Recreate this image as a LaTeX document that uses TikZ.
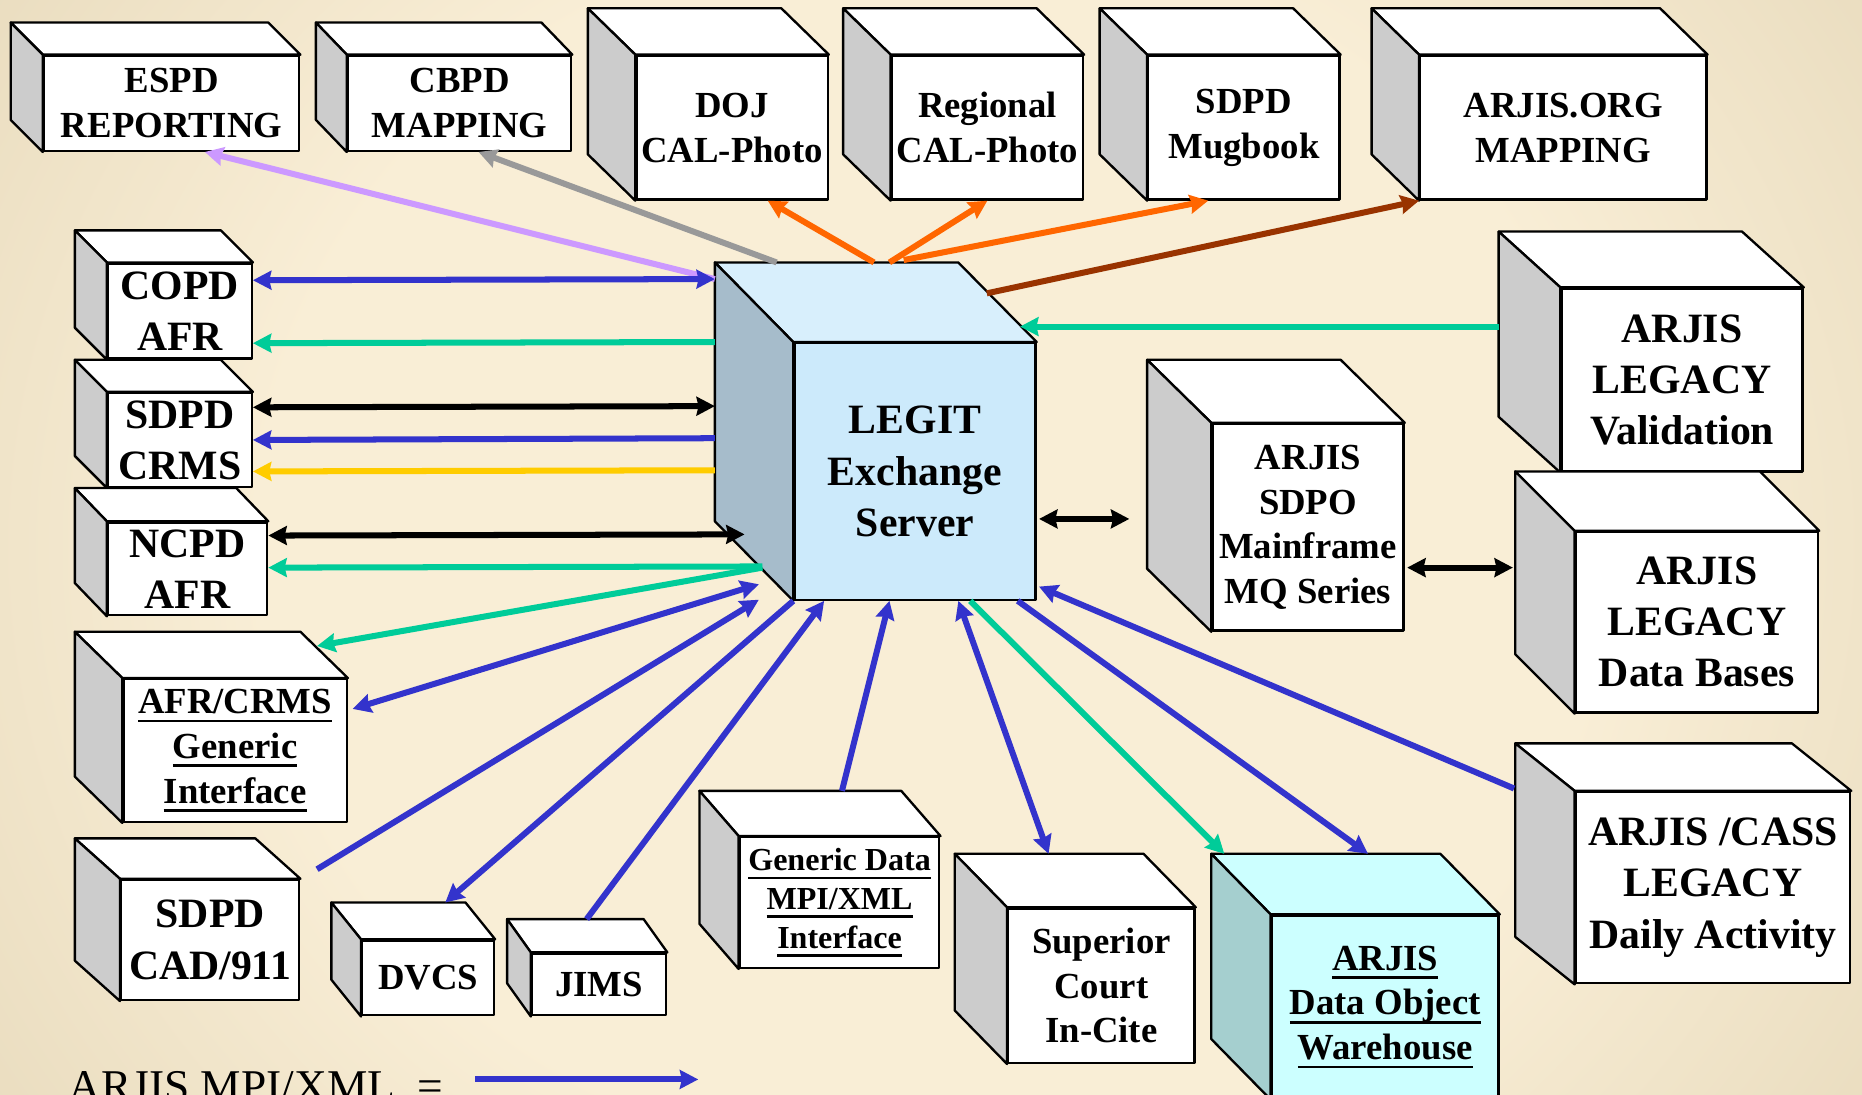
\documentclass[tikz,border=0pt]{standalone}
\usepackage{fontspec}
\setmainfont{Liberation Serif}
\usetikzlibrary{arrows.meta}
\definecolor{bgin}{HTML}{F9EED6}
\definecolor{bgout}{HTML}{D1C19B}
\definecolor{sidegray}{HTML}{CCCCCC}
\definecolor{legitfront}{HTML}{CCEAFB}
\definecolor{legittop}{HTML}{D8EFFC}
\definecolor{legitside}{HTML}{A6BCCB}
\definecolor{wcyan}{HTML}{CCFFFF}
\definecolor{wteal}{HTML}{A5CFCF}
\definecolor{cblue}{HTML}{3333CC}
\definecolor{cgreen}{HTML}{00CC99}
\definecolor{cpurple}{HTML}{CC99FF}
\definecolor{cgray}{HTML}{999999}
\definecolor{corange}{HTML}{FF6600}
\definecolor{cbrown}{HTML}{993300}
\definecolor{cyellow}{HTML}{FFCC00}
\pgfdeclareradialshading{bgglow}{\pgfpoint{0bp}{0bp}}{color(0bp)=(bgin); color(18bp)=(bgin); color(50bp)=(bgout); color(80bp)=(bgout)}
\newcommand{\thickul}[1]{\setbox0\hbox{#1}\leavevmode\rlap{\rule[-2.6pt]{\wd0}{0.8pt}}\box0}
\tikzset{
  ahead/.tip={Stealth[length=5.5pt,width=5.6pt,inset=0.6pt]},
  sz/.style 2 args={minimum width=#1*0.0125cm, minimum height=#2*0.0125cm},
  box/.style={draw, line width=0.7pt, fill=white, inner sep=0pt, align=center, font=\bfseries\fontsize{11}{13.4}\selectfont},
  bigbox/.style={box, font=\bfseries\fontsize{12.5}{15.3}\selectfont},
  smallbox/.style={box, font=\bfseries\fontsize{9.6}{11.6}\selectfont},
  face/.style={draw, line width=0.7pt, line join=round},
  conn/.style={line width=1.8pt, -ahead},
  both/.style={line width=1.8pt, ahead-ahead}
}
\begin{document}
\begin{tikzpicture}[line join=round, x=0.0125cm, y=-0.0125cm]
                \useasboundingbox (0,0) rectangle (1568,922);
                \clip (0,0) rectangle (1568,922);
                \shade[shading=bgglow] (0,-260) rectangle (1568,1182);
                \node[box, sz={215}{80}] (espd) at (144.5,87) {ESPD\\REPORTING};
                \node[box, sz={188}{80}] (cbpd) at (387,87) {CBPD\\MAPPING};
                \node[box, sz={161}{121}] (doj) at (616.5,107.5) {DOJ\\CAL-Photo};
                \node[box, sz={161}{121}] (regional) at (831.5,107.5) {Regional\\CAL-Photo};
                \node[box, sz={161}{121}] (mugbook) at (1047.5,107.5) {SDPD\\Mugbook};
                \node[box, sz={241}{121}] (arjisorg) at (1316.5,107.5) {ARJIS.ORG\\MAPPING};
                \node[bigbox, sz={121}{80}] (copd) at (151.5,262) {COPD\\AFR};
                \node[bigbox, sz={121}{79}] (crms) at (151.5,370.5) {SDPD\\CRMS};
                \node[bigbox, sz={134}{78}] (ncpd) at (158,479) {NCPD\\AFR};
                \node[box, sz={188}{120}] (generic) at (198,632) {\thickul{AFR/CRMS}\\\thickul{Generic}\\\thickul{Interface}};
                \node[bigbox, sz={150}{101}] (cad) at (177,791.5) {SDPD\\CAD/911};
                \node[box, sz={111}{63}] (dvcs) at (360.5,823.5) {DVCS};
                \node[box, sz={113}{52}] (jims) at (504.5,829) {JIMS};
                \node[smallbox, sz={168}{110}] (gendata) at (707,760) {\thickul{Generic Data}\\\thickul{MPI/XML}\\\thickul{Interface}};
                \node[box, sz={157}{130}] (court) at (927.5,830) {Superior\\Court\\In-Cite};
                \node[box, sz={191}{154}, fill=wcyan] (warehouse) at (1166.5,848) {\thickul{ARJIS}\\\thickul{Data Object}\\\thickul{Warehouse}};
                \node[bigbox, sz={203}{216}, fill=legitfront] (legit) at (770.5,397) {LEGIT\\Exchange\\Server};
                \node[box, sz={161}{174}] (sdpo) at (1101.5,444) {ARJIS\\SDPO\\Mainframe\\MQ Series};
                \node[bigbox, sz={203}{154}] (validation) at (1416.5,320) {ARJIS\\LEGACY\\Validation};
                \node[bigbox, sz={204}{152}] (databases) at (1429,524) {ARJIS\\LEGACY\\Data Bases};
                \node[bigbox, sz={231}{161}] (cass) at (1442.5,747.5) {ARJIS /CASS\\LEGACY\\Daily Activity};
                \foreach \n/\dx/\dy/\tc/\sc in {espd/27/27/white/sidegray, cbpd/26/27/white/sidegray, doj/40/39/white/sidegray, regional/40/39/white/sidegray, mugbook/40/39/white/sidegray, arjisorg/40/39/white/sidegray, copd/27/27/white/sidegray, crms/27/27/white/sidegray, ncpd/27/28/white/sidegray, generic/40/39/white/sidegray, cad/38/34/white/sidegray, dvcs/25/31/white/sidegray, jims/20/28/white/sidegray, gendata/33/38/white/sidegray, court/44/45/white/sidegray, warehouse/50/51/wcyan/wteal, legit/66/67/legittop/legitside, sdpo/54/53/white/sidegray, validation/52/47/white/sidegray, databases/50/50/white/sidegray, cass/50/40/white/sidegray}
                {
                    \filldraw[face, fill=\tc] (\n.north west) -- ++(-\dx,-\dy) -- ([shift={(-\dx,-\dy)}]\n.north east) -- (\n.north east) -- cycle;
                    \filldraw[face, fill=\sc] (\n.north west) -- ++(-\dx,-\dy) -- ([shift={(-\dx,-\dy)}]\n.south west) -- (\n.south west) -- cycle;
                }
                \coordinate (legit-b) at ([shift={(-66,-67)}]legit.north west);
                \draw[conn, cpurple] ([shift={(0,14)}]legit-b) -- ([shift={(28,0)}]espd.south);
                \draw[conn, cgray] ([shift={(52,0)}]legit-b) -- ([shift={(16,0)}]cbpd.south);
                \draw[conn, corange] ([shift={(134,0)}]legit-b) -- ([shift={(30,0)}]doj.south);
                \draw[conn, corange] ([shift={(147,0)}]legit-b) -- (regional.south);
                \draw[conn, corange] ([shift={(159,-2)}]legit-b) -- ([shift={(-30,0)}]mugbook.south);
                \draw[conn, cbrown] ([shift={(229,26)}]legit-b) -- (arjisorg.south west);
                \draw[both, cblue] ([shift={(0,-26)}]copd.east) -- ([shift={(0,14)}]legit-b);
                \draw[conn, cgreen] ([shift={(0,67)}]legit-b) -- ([shift={(0,27)}]copd.east);
                \draw[both, black] ([shift={(0,-27.5)}]crms.east) -- ([shift={(0,121)}]legit-b);
                \draw[conn, cblue] ([shift={(0,148)}]legit-b) -- (crms.east);
                \draw[conn, cyellow] ([shift={(0,175)}]legit-b) -- ([shift={(0,26.5)}]crms.east);
                \draw[both, black] ([shift={(0,-28)}]ncpd.east) -- ([shift={(25,229)}]legit-b);
                \draw[conn, cgreen] ([shift={(40,256)}]legit-b) -- ([shift={(0,-1)}]ncpd.east);
                \draw[conn, cgreen] ([shift={(40,257)}]legit-b) -- ([shift={(-26,-27)}]generic.north east);
                \draw[both, cblue] ([shift={(4,-35)}]generic.east) -- ([shift={(37,271)}]legit-b);
                \draw[conn, cblue] ([shift={(14,-8)}]cad.north east) -- ([shift={(37,284)}]legit-b);
                \draw[conn, cblue] (legit.south west) -- ([shift={(-42,-31)}]dvcs.north east);
                \draw[conn, cblue] ([shift={(47,-28)}]jims.north west) -- ([shift={(26,0)}]legit.south west);
                \draw[conn, cblue] ([shift={(87,-38)}]gendata.north west) -- ([shift={(81,0)}]legit.south west);
                \draw[both, cblue] ([shift={(139,0)}]legit.south west) -- ([shift={(35,-45)}]court.north west);
                \draw[conn, cgreen] ([shift={(149,0)}]legit.south west) -- ([shift={(-39,-51)}]warehouse.north west);
                \draw[conn, cblue] ([shift={(189,0)}]legit.south west) -- ([shift={(82,-51)}]warehouse.north west);
                \draw[conn, cblue] ([shift={(-51,-2)}]cass.north west) -- ([shift={(2,-12)}]legit.south east);
                \draw[conn, cgreen] ([shift={(-52,33)}]validation.north west) -- ([shift={(257,54)}]legit-b);
                \draw[both, black] ([shift={(2,40)}]legit.east) -- ([shift={(-69,-7)}]sdpo.west);
                \draw[both, black] ([shift={(2,34)}]sdpo.east) -- ([shift={(-52,-46)}]databases.west);
                \node[anchor=base west, inner sep=0pt, font=\fontsize{13.6}{16}\selectfont] (legend) at (57,928) {ARJIS MPI/XML \ =};
                \coordinate (leg-a) at (400,909);
                \coordinate (leg-b) at (588,909);
                \draw[conn, cblue] (leg-a) -- (leg-b);
            \end{tikzpicture}
\end{document}
